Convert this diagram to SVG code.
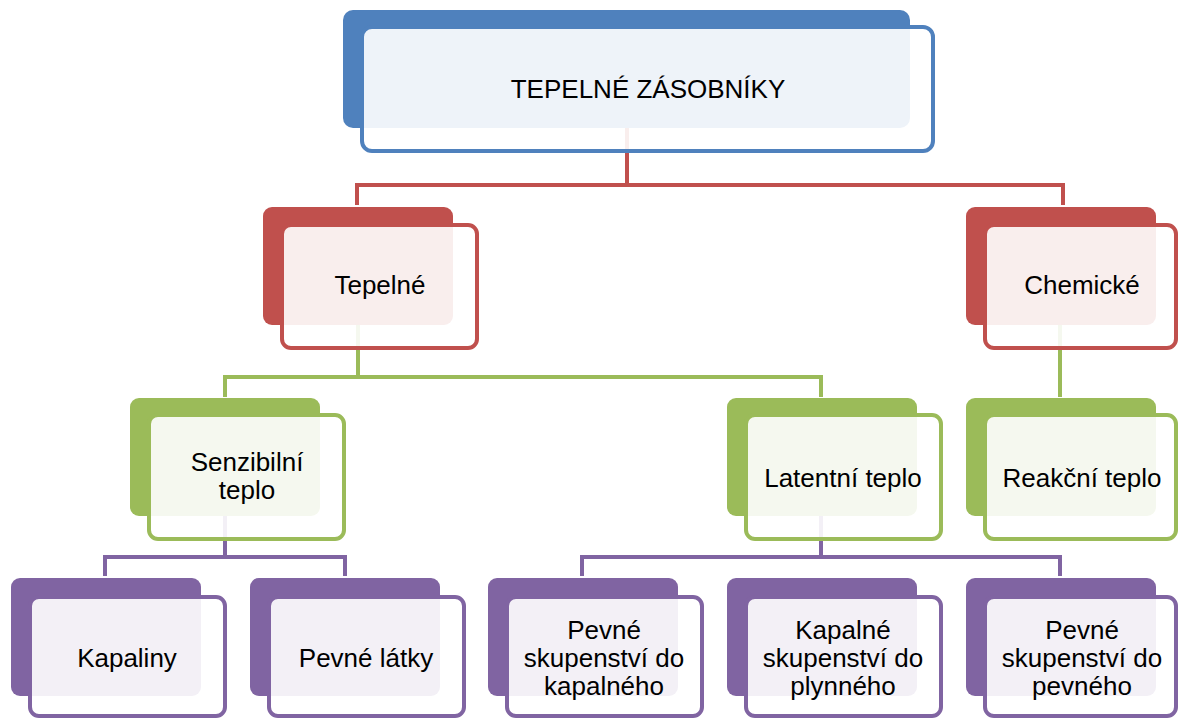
<svg xmlns="http://www.w3.org/2000/svg" width="1179" height="718" viewBox="0 0 1179 718">
<style>
text{font-family:"Liberation Sans",Arial,sans-serif;font-size:26px;fill:#000;text-anchor:middle}
.front{fill:#fff;fill-opacity:0.9;stroke-width:4}
.blue .back{fill:#4F81BD}.blue .front{stroke:#4F81BD}
.red .back{fill:#C0504D}.red .front{stroke:#C0504D}
.green .back{fill:#9BBB59}.green .front{stroke:#9BBB59}
.purple .back{fill:#8064A2}.purple .front{stroke:#8064A2}
.conn{fill:none;stroke-width:4}
</style>
<rect width="1179" height="718" fill="#fff"/>
<g id="connectors">
<path class="conn" stroke="#C0504D" d="M627 128V185M357 205V185H1063V205"/>
<path class="conn" stroke="#9BBB59" d="M358 325V377M225 397V377H821V397M1060 325V397"/>
<path class="conn" stroke="#8064A2" d="M225 516V557M105 576V557H345V576M821 516V557M582 576V557H1060V576"/>
</g>
<g id="n-root" class="blue">
<rect class="back" x="343" y="10" width="567" height="118" rx="10"/>
<rect class="front" x="362" y="27" width="571" height="124" rx="10"/>
<text x="648" y="98">TEPELNÉ ZÁSOBNÍKY</text>
</g>
<g id="n-tepelne" class="red">
<rect class="back" x="263" y="207" width="190" height="118" rx="9"/>
<rect class="front" x="282" y="225" width="195" height="123" rx="9"/>
<text x="380" y="294">Tepelné</text>
</g>
<g id="n-chemicke" class="red">
<rect class="back" x="966" y="207" width="190" height="118" rx="9"/>
<rect class="front" x="985" y="225" width="191" height="123" rx="9"/>
<text x="1082" y="294">Chemické</text>
</g>
<g id="n-senzibilni" class="green">
<rect class="back" x="130" y="398" width="190" height="118" rx="9"/>
<rect class="front" x="149" y="415" width="195" height="124" rx="9"/>
<text x="247" y="471">Senzibilní</text>
<text x="247" y="499">teplo</text>
</g>
<g id="n-latentni" class="green">
<rect class="back" x="727" y="398" width="190" height="118" rx="9"/>
<rect class="front" x="746" y="415" width="195" height="124" rx="9"/>
<text x="843" y="487">Latentní teplo</text>
</g>
<g id="n-reakcni" class="green">
<rect class="back" x="966" y="398" width="190" height="118" rx="9"/>
<rect class="front" x="985" y="415" width="191" height="124" rx="9"/>
<text x="1082" y="487">Reakční teplo</text>
</g>
<g id="n-kapaliny" class="purple">
<rect class="back" x="11" y="578" width="190" height="118" rx="9"/>
<rect class="front" x="30" y="597" width="195" height="119" rx="9"/>
<text x="127" y="667">Kapaliny</text>
</g>
<g id="n-pevne-latky" class="purple">
<rect class="back" x="250" y="578" width="190" height="118" rx="9"/>
<rect class="front" x="269" y="597" width="195" height="119" rx="9"/>
<text x="366" y="667">Pevné látky</text>
</g>
<g id="n-pevne-kapalne" class="purple">
<rect class="back" x="488" y="578" width="190" height="118" rx="9"/>
<rect class="front" x="507" y="597" width="195" height="119" rx="9"/>
<text x="604" y="639">Pevné</text>
<text x="604" y="667">skupenství do</text>
<text x="604" y="695">kapalného</text>
</g>
<g id="n-kapalne-plynne" class="purple">
<rect class="back" x="727" y="578" width="190" height="118" rx="9"/>
<rect class="front" x="746" y="597" width="195" height="119" rx="9"/>
<text x="843" y="639">Kapalné</text>
<text x="843" y="667">skupenství do</text>
<text x="843" y="695">plynného</text>
</g>
<g id="n-pevne-pevne" class="purple">
<rect class="back" x="966" y="578" width="190" height="118" rx="9"/>
<rect class="front" x="985" y="597" width="191" height="119" rx="9"/>
<text x="1082" y="639">Pevné</text>
<text x="1082" y="667">skupenství do</text>
<text x="1082" y="695">pevného</text>
</g>
</svg>
